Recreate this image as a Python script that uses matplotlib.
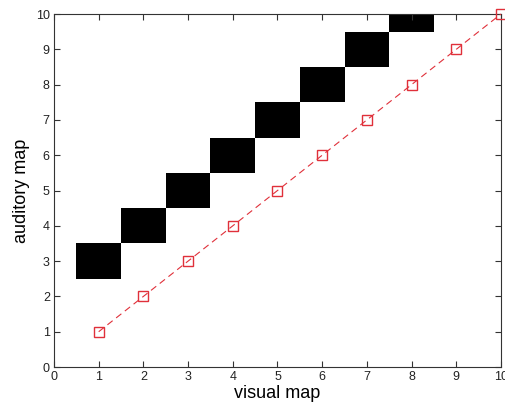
import numpy as np
import matplotlib.pyplot as plt

plt.rcParams['font.family'] = ['Liberation Sans', 'DejaVu Sans']

# black cells of the map (visual -> auditory)
cell_x = [1, 2, 3, 4, 5, 6, 7, 8]
cell_y = [3, 4, 5, 6, 7, 8, 9, 10]

# identity line with markers
line_x = [1, 2, 3, 4, 5, 6, 7, 8, 9, 10]
line_y = [1, 2, 3, 4, 5, 6, 7, 8, 9, 10]

fig = plt.figure(figsize=(5.06, 4.12), dpi=100)
ax = fig.add_axes([0.1067, 0.1092, 0.8834, 0.8568])

ax.bar(cell_x, [1] * len(cell_x), width=1, bottom=np.array(cell_y) - 0.5,
       color='black', edgecolor='none', zorder=1)
ax.plot(line_x, line_y, color='#e0303a', linestyle=(0, (6, 4)), linewidth=0.8,
        marker='s', markersize=6.5, markerfacecolor='none',
        markeredgecolor='#e0303a', markeredgewidth=1.0, clip_on=False, zorder=3)

ax.set_xlim(0, 10)
ax.set_ylim(0, 10)
ax.set_xticks(range(0, 11))
ax.set_yticks(range(0, 11))
ax.tick_params(direction='in', length=4, width=0.8, labelsize=9, colors='#333333',
               top=True, right=True, labelcolor='#222222', pad=3)
for s in ax.spines.values():
    s.set_linewidth(0.8)
    s.set_color('#333333')
ax.set_xlabel('visual map', fontsize=13, labelpad=1)
ax.set_ylabel('auditory map', fontsize=13, labelpad=4)

fig.savefig('out.png', dpi=100)
